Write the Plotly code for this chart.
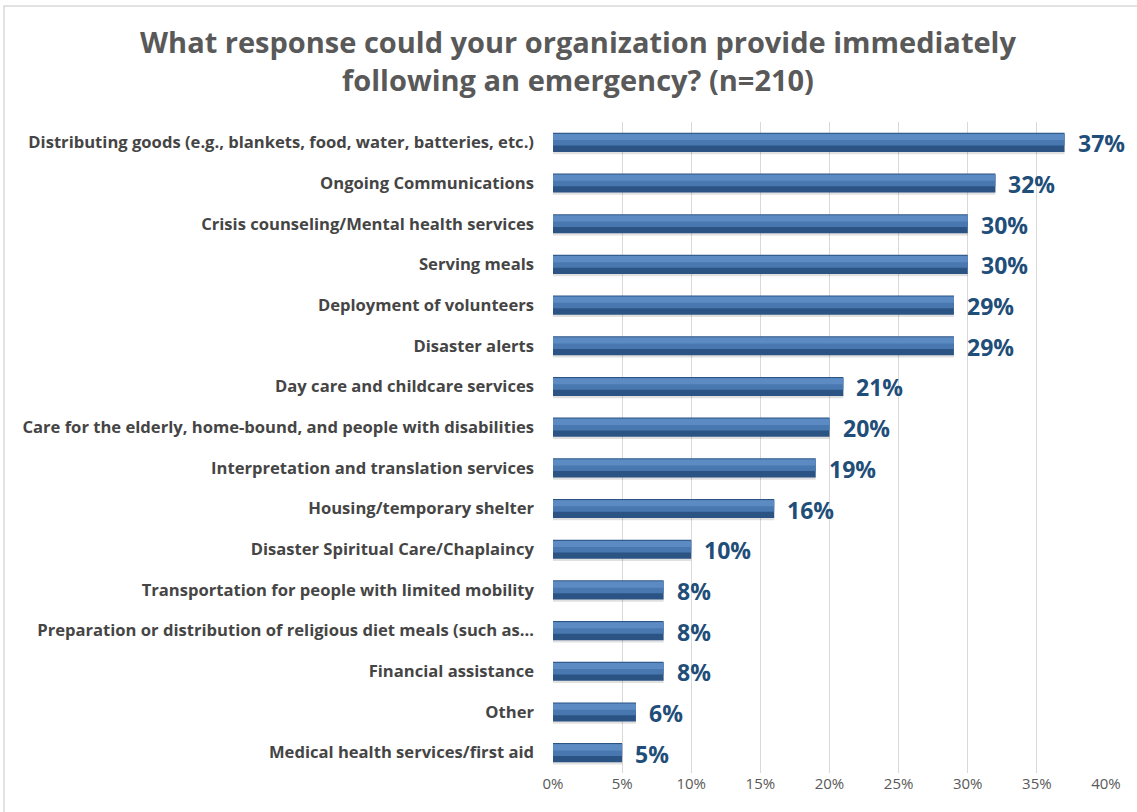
import plotly.graph_objects as go

# Survey responses, top to bottom
categories = [
    "Distributing goods (e.g., blankets, food, water, batteries, etc.)",
    "Ongoing Communications",
    "Crisis counseling/Mental health services",
    "Serving meals",
    "Deployment of volunteers",
    "Disaster alerts",
    "Day care and childcare services",
    "Care for the elderly, home-bound, and people with disabilities",
    "Interpretation and translation services",
    "Housing/temporary shelter",
    "Disaster Spiritual Care/Chaplaincy",
    "Transportation for people with limited mobility",
    "Preparation or distribution of religious diet meals (such as…",
    "Financial assistance",
    "Other",
    "Medical health services/first aid",
]
percent = [37, 32, 30, 30, 29, 29, 21, 20, 19, 16, 10, 8, 8, 8, 6, 5]
tick_vals = [0, 5, 10, 15, 20, 25, 30, 35, 40]
tick_text = [f"{v}%" for v in tick_vals]

pos = list(range(len(categories)))

W, H = 1137, 812
L, R, T, B = 553, 31, 122, 39
FONT = "Open Sans"

fig = go.Figure()

# soft drop shadow
fig.add_trace(go.Bar(
    x=percent, y=pos, orientation="h", width=0.5, offset=-0.21,
    marker=dict(color="rgba(0,0,0,0.12)", line=dict(width=0)),
    hoverinfo="skip", showlegend=False,
))
# dark lower face of the bevelled bar
fig.add_trace(go.Bar(
    x=percent, y=pos, orientation="h", width=0.47, offset=-0.235,
    marker=dict(color="#2B5484", line=dict(width=0)),
    hoverinfo="skip", showlegend=False,
))
# upper face
fig.add_trace(go.Bar(
    x=percent, y=pos, orientation="h", width=0.29, offset=-0.21,
    marker=dict(color="#4878AF", line=dict(width=0)),
    hoverinfo="skip", showlegend=False,
))
# top highlight
fig.add_trace(go.Bar(
    x=percent, y=pos, orientation="h", width=0.15, offset=-0.205,
    marker=dict(color="#5B8BC2", line=dict(width=0)),
    hoverinfo="skip", showlegend=False,
))

annotations = []
for p, v in zip(pos, percent):
    annotations.append(dict(
        x=v, y=p, xref="x", yref="y", text=f"{v}%", showarrow=False,
        xanchor="left", yanchor="middle", xshift=11, yshift=-1,
        font=dict(family=FONT, size=23, color="#1F4E79", weight="bold"),
    ))

pw, ph = W - L - R, H - T - B
fig.update_layout(
    width=W, height=H,
    margin=dict(l=L, r=R, t=T, b=B),
    paper_bgcolor="white", plot_bgcolor="white",
    barmode="overlay",
    title=dict(
        text="What response could your organization provide immediately<br>following an emergency? (n=210)",
        x=578 / W, xanchor="center", xref="container",
        y=1 - 53 / H, yanchor="middle", yref="container",
        font=dict(family=FONT, size=29, color="#595959", weight="bold"),
    ),
    xaxis=dict(
        range=[0, 40], tickvals=tick_vals, ticktext=tick_text,
        showgrid=True, gridcolor="#D9D9D9", gridwidth=1,
        zeroline=False, showline=False, ticks="",
        tickfont=dict(family=FONT, size=15, color="#595959"),
        fixedrange=True,
    ),
    yaxis=dict(
        range=[len(categories) - 0.5, -0.5],
        tickvals=pos, ticktext=categories, ticks="", showgrid=False,
        zeroline=False, showline=False, ticklabelstandoff=18,
        tickfont=dict(family=FONT, size=16.6, color="#454545", weight="bold"),
    ),
    annotations=annotations,
    shapes=[dict(
        type="rect", xref="paper", yref="paper",
        x0=(4 - L) / pw, x1=(W + 5 - L) / pw,
        y0=-(H + 5 - T - ph) / ph, y1=1 + (T - 6) / ph,
        line=dict(color="#D9D9D9", width=1.5), fillcolor="rgba(0,0,0,0)",
        layer="below",
    )],
    showlegend=False,
)

fig.write_html("out.html")
